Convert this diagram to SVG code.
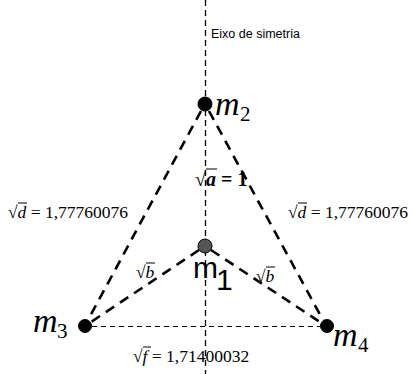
<svg xmlns="http://www.w3.org/2000/svg" width="412" height="374" viewBox="0 0 412 374">
<style>
.thick{stroke:#000;stroke-width:2.6;stroke-dasharray:10 7;fill:none}
.thin{stroke:#000;stroke-width:1.1;stroke-dasharray:5 4;fill:none}
.axis{stroke:#000;stroke-width:1.3;stroke-dasharray:6 4;fill:none}
.math{font-family:"Liberation Serif","DejaVu Serif",serif;font-size:17.5px;fill:#000}
.big{font-size:20px;font-weight:bold}
.var{font-style:italic}
.mlab{font-family:"Liberation Serif","DejaVu Serif",serif;font-style:italic;font-size:34px;fill:#000}
.sub{font-family:"Liberation Serif","DejaVu Serif",serif;font-size:21px;fill:#000}
.bar{stroke:#000;stroke-width:1}
.node{stroke:#000;stroke-width:1}
</style>
<rect width="412" height="374" fill="#fff"/>
<g id="connectors">
<line class="axis" x1="205.5" y1="0" x2="205.5" y2="374"/>
<line class="thick" x1="201" y1="111" x2="88" y2="320"/>
<line class="thick" x1="209" y1="111" x2="323" y2="320"/>
<line class="thick" x1="199" y1="250" x2="91" y2="322"/>
<line class="thick" x1="211" y1="250" x2="320" y2="322"/>
<line class="thin" x1="92" y1="326.5" x2="320" y2="326.5"/>
</g>
<g id="axis-label">
<text x="211" y="38" font-family="Liberation Sans, Arial, sans-serif" font-size="12.5" fill="#000">Eixo de simetria</text>
</g>
<g id="m2">
<circle class="node" cx="205" cy="104" r="7" fill="#000"/>
<text class="mlab" x="215" y="115">m</text>
<text class="sub" x="240" y="121">2</text>
</g>
<g id="m1">
<circle class="node" cx="205" cy="246" r="7" fill="#555"/>
<text x="193" y="278" font-family="Liberation Sans, Arial, sans-serif" font-size="30" fill="#000">m</text>
<text x="216" y="290" font-family="Liberation Sans, Arial, sans-serif" font-size="30" fill="#000">1</text>
</g>
<g id="m3">
<circle class="node" cx="85" cy="326" r="6.5" fill="#000"/>
<text class="mlab" x="33" y="332">m</text>
<text class="sub" x="57" y="338">3</text>
</g>
<g id="m4">
<circle class="node" cx="327" cy="326" r="6.5" fill="#000"/>
<text class="mlab" x="333" y="346">m</text>
<text class="sub" x="358" y="352">4</text>
</g>
<g id="label-a">
<text class="math big" x="195" y="186">√<tspan class="var">a</tspan> = 1</text>
<line class="bar" x1="206" y1="169" x2="217" y2="169" stroke-width="1.4"/>
</g>
<g id="label-d-left">
<text class="math" x="8" y="218">√<tspan class="var">d</tspan> = 1,77760076</text>
<line class="bar" x1="18" y1="203" x2="27" y2="203"/>
</g>
<g id="label-d-right">
<text class="math" x="288" y="218">√<tspan class="var">d</tspan> = 1,77760076</text>
<line class="bar" x1="298" y1="203" x2="307" y2="203"/>
</g>
<g id="label-b-left">
<text class="math" x="136" y="278">√<tspan class="var">b</tspan></text>
<line class="bar" x1="146" y1="263" x2="155" y2="263"/>
</g>
<g id="label-b-right">
<text class="math" x="256" y="282">√<tspan class="var">b</tspan></text>
<line class="bar" x1="266" y1="267" x2="275" y2="267"/>
</g>
<g id="label-f">
<text class="math" x="133" y="362">√<tspan class="var">f</tspan> = 1,71400032</text>
<line class="bar" x1="143" y1="347" x2="151" y2="347"/>
</g>
</svg>
